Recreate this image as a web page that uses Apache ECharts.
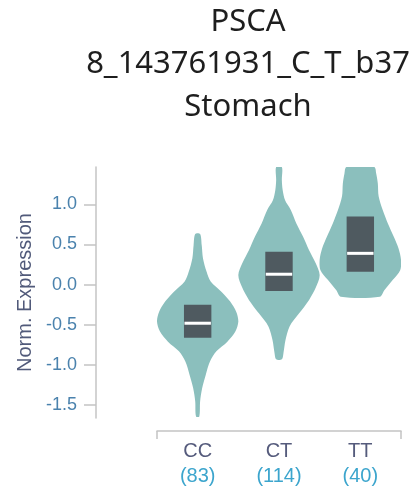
<!DOCTYPE html>
<html><head><meta charset="utf-8">
<script src="https://cdn.jsdelivr.net/npm/echarts@6/dist/echarts.min.js"></script>
<style>html,body{margin:0;padding:0;background:#fff}#c{width:414px;height:490px}</style>
</head><body><div id="c"></div>
<script>
// ---- data ----
const titleLines = ['PSCA', '8_143761931_C_T_b37', 'Stomach'];
const categories = ['CC', 'CT', 'TT'];
const counts = [83, 114, 40];
const yMin = -1.66;
const yMax = 1.465;

// violin profiles: [expression value, relative density]
const violinCC = [[-1.64,0.04],[-1.455,0.06],[-1.29,0.11],[-1.12,0.20],[-0.96,0.30],[-0.83,0.46],[-0.71,0.73],[-0.58,0.93],[-0.46,1.0],[-0.34,0.95],[-0.21,0.80],[-0.09,0.59],[0.04,0.32],[0.16,0.22],[0.33,0.13],[0.49,0.10],[0.63,0.06]];
const violinCT = [[-0.93,0.07],[-0.85,0.11],[-0.69,0.16],[-0.52,0.26],[-0.36,0.49],[-0.19,0.74],[-0.03,0.91],[0.12,1.0],[0.27,0.90],[0.43,0.74],[0.60,0.59],[0.76,0.43],[0.93,0.29],[1.05,0.15],[1.18,0.09],[1.30,0.07],[1.465,0.07]];
const violinTT = [[-0.15,0.48],[-0.07,0.59],[0.06,0.80],[0.18,0.98],[0.31,1.0],[0.45,0.94],[0.60,0.82],[0.76,0.68],[0.93,0.55],[1.10,0.45],[1.26,0.43],[1.385,0.39],[1.465,0.34]];
const violins = [violinCC, violinCT, violinTT];

const boxQ1 = [-0.66, -0.08, 0.16];
const boxMedian = [-0.48, 0.13, 0.39];
const boxQ3 = [-0.25, 0.41, 0.85];

// ---- chart ----
const chart = echarts.init(document.getElementById('c'), null, {renderer: 'canvas'});
const axisGray = '#c4c4c4';

function renderViolin(params, api) {
  const i = params.dataIndex;
  const prof = violins[i];
  const half = api.size([1, 0])[0] * 0.5;
  const right = prof.map(function (p) { const c = api.coord([i, p[0]]); return [c[0] + p[1] * half, c[1]]; });
  const left = prof.slice().reverse().map(function (p) { const c = api.coord([i, p[0]]); return [c[0] - p[1] * half, c[1]]; });
  return {type: 'polygon', shape: {points: right.concat(left), smooth: 0.3}, style: {fill: '#8bbfbd'}};
}

function renderBox(params, api) {
  const i = params.dataIndex;
  const bw = api.size([1, 0])[0] * 0.337;
  const top = api.coord([i, boxQ3[i]]);
  const bot = api.coord([i, boxQ1[i]]);
  const med = api.coord([i, boxMedian[i]]);
  return {type: 'group', children: [
    {type: 'rect', shape: {x: top[0] - bw / 2, y: top[1], width: bw, height: bot[1] - top[1]}, style: {fill: '#4f5a60'}},
    {type: 'rect', shape: {x: med[0] - bw / 2 + 0.5, y: med[1] - 1.5, width: bw - 1, height: 3}, style: {fill: '#ffffff'}}
  ]};
}

chart.setOption({
  animation: false,
  backgroundColor: '#ffffff',
  graphic: [{
    type: 'text', x: 248, y: 0.5,
    style: {text: titleLines.join('\n'), align: 'center', verticalAlign: 'top',
      fontFamily: 'Noto Sans', fontSize: 31, lineHeight: 42.5, fill: '#1e1e1e'}
  }],
  grid: {left: 157, right: 13, top: 167, bottom: 72},
  xAxis: [{
    type: 'category', data: categories, offset: 13,
    axisLine: {onZero: false, lineStyle: {color: axisGray, width: 1.5}},
    axisTick: {alignWithLabel: true, length: 8, lineStyle: {color: axisGray, width: 1.5}},
    axisLabel: {
      margin: 8,
      formatter: function (v, idx) { return '{a|' + v + '}\n{b|(' + counts[idx] + ')}'; },
      rich: {
        a: {color: '#555b7c', fontSize: 20, lineHeight: 25, fontFamily: 'Liberation Sans'},
        b: {color: '#3ca5cd', fontSize: 20, lineHeight: 25, fontFamily: 'Liberation Sans'}
      }
    },
    splitLine: {show: false}
  }, {
    type: 'value', min: 0, max: 1, interval: 1, position: 'bottom', offset: 13,
    axisLine: {show: false, onZero: false},
    axisTick: {show: true, length: 8, lineStyle: {color: axisGray, width: 1.5}},
    axisLabel: {show: false}, splitLine: {show: false}
  }],
  yAxis: {
    type: 'value', min: yMin, max: yMax, minInterval: 0.5, maxInterval: 0.5, splitNumber: 6,
    offset: 61,
    name: 'Norm. Expression', nameLocation: 'middle', nameGap: 60,
    nameTextStyle: {color: '#515a7a', fontSize: 20, fontFamily: 'Liberation Sans'},
    axisLine: {show: true, onZero: false, lineStyle: {color: axisGray, width: 1.5}},
    axisTick: {show: true, length: 12, lineStyle: {color: axisGray, width: 1.5}},
    axisLabel: {margin: 19, showMinLabel: false, showMaxLabel: false, color: '#4a82ad', fontSize: 18, fontFamily: 'Liberation Sans',
      formatter: function (v) { return v.toFixed(1); }},
    splitLine: {show: false}
  },
  series: [{
    type: 'custom', name: 'violin', xAxisIndex: 0, clip: true,
    data: categories.map(function (c, i) { return [i, boxMedian[i]]; }),
    renderItem: renderViolin
  }, {
    type: 'custom', name: 'box', xAxisIndex: 0, clip: true,
    data: categories.map(function (c, i) { return [i, boxMedian[i]]; }),
    renderItem: renderBox
  }]
});
</script></body></html>
